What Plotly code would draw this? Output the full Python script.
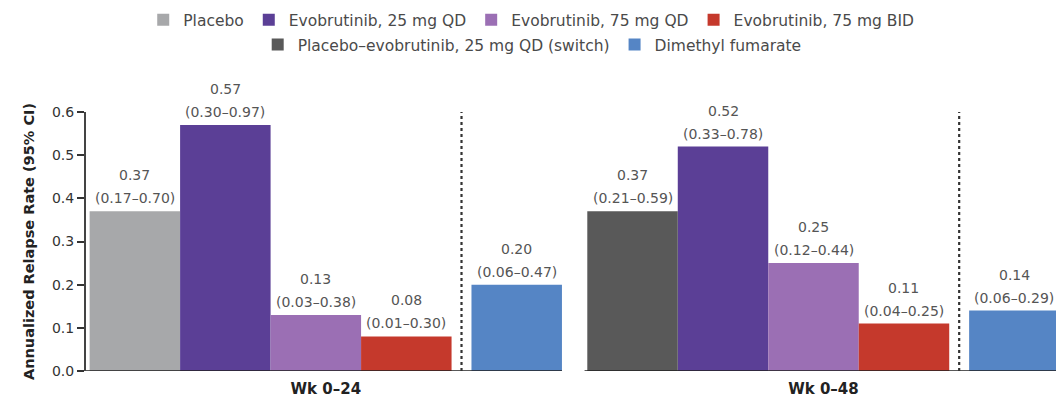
import plotly.graph_objects as go

# Annualized relapse rate by treatment arm and time window
windows = ["Wk 0–24", "Wk 0–48"]

arms = [
    "Placebo",
    "Evobrutinib, 25 mg QD",
    "Evobrutinib, 75 mg QD",
    "Evobrutinib, 75 mg BID",
    "Placebo–evobrutinib, 25 mg QD (switch)",
    "Dimethyl fumarate",
]

# rate, lower CI, upper CI per window (None = arm not shown in that window)
rate_wk24 = [0.37, 0.57, 0.13, 0.08, None, 0.20]
lo_wk24 = [0.17, 0.30, 0.03, 0.01, None, 0.06]
hi_wk24 = [0.70, 0.97, 0.38, 0.30, None, 0.47]

rate_wk48 = [None, 0.52, 0.25, 0.11, 0.37, 0.14]
lo_wk48 = [None, 0.33, 0.12, 0.04, 0.21, 0.06]
hi_wk48 = [None, 0.78, 0.44, 0.25, 0.59, 0.29]

y_ticks = [0.0, 0.1, 0.2, 0.3, 0.4, 0.5, 0.6]

colors = ["#a7a8aa", "#5b3f96", "#9b6fb4", "#c5392c", "#595959", "#5585c5"]

# layout of bar slots inside each window (in bar-width units)
group_start = [0.0, 5.5]
arm_offset = [0, 1, 2, 3, 0, 4.22]
divider_offset = 3.61
bar_w = 1.0
x_range = [-0.54, 10.18]

FONT = "DejaVu Sans"
LABEL_COL = "#555555"

rates = [rate_wk24, rate_wk48]
los = [lo_wk24, lo_wk48]
his = [hi_wk24, hi_wk48]

fig = go.Figure()
annotations = []

for a, name in enumerate(arms):
    xs, ys = [], []
    for g in range(len(windows)):
        v = rates[g][a]
        if v is None:
            continue
        x = group_start[g] + arm_offset[a]
        xs.append(x)
        ys.append(v)
        annotations.append(dict(
            x=x, y=v, xref="x", yref="y", text=f"{v:.2f}", showarrow=False,
            yshift=36, yanchor="middle", font=dict(family=FONT, size=14, color=LABEL_COL)))
        annotations.append(dict(
            x=x, y=v, xref="x", yref="y", text=f"({los[g][a]:.2f}–{his[g][a]:.2f})",
            showarrow=False, yshift=13, yanchor="middle",
            font=dict(family=FONT, size=14, color=LABEL_COL)))
    fig.add_trace(go.Bar(
        x=xs, y=ys, width=[bar_w] * len(xs), name=name,
        marker=dict(color=colors[a], line=dict(width=0)),
        legend="legend" if a < 4 else "legend2",
    ))

shapes = []
# baselines under each window
for g in range(len(windows)):
    xs = [group_start[g] + arm_offset[a] for a in range(len(arms)) if rates[g][a] is not None]
    left = x_range[0] if g == 0 else min(xs) - bar_w / 2 - 0.03
    right = max(xs) + bar_w / 2
    right = min(right, x_range[1])
    shapes.append(dict(type="line", xref="x", yref="y", x0=left, x1=right, y0=0, y1=0,
                       line=dict(color="#222222", width=1.6), layer="above"))
    # dotted divider before the active-comparator bar
    xd = group_start[g] + divider_offset
    shapes.append(dict(type="line", xref="x", yref="y", x0=xd, x1=xd, y0=0, y1=0.6,
                       line=dict(color="#333333", width=2.2, dash="3px,3px")))

centers = []
for g in range(len(windows)):
    xs = [group_start[g] + arm_offset[a] for a in range(len(arms)) if rates[g][a] is not None]
    centers.append((min(xs) + max(xs)) / 2)

legend_font = dict(family=FONT, size=15.5, color="#4a4a4a")

fig.update_layout(
    width=1056, height=399,
    margin=dict(l=86, r=0, t=112, b=28),
    paper_bgcolor="white", plot_bgcolor="white",
    barmode="overlay",
    font=dict(family=FONT, size=14, color="#333333"),
    shapes=shapes,
    annotations=annotations,
    showlegend=True,
    legend=dict(orientation="h", x=0.459, xanchor="center", y=1.355, yanchor="middle",
                font=legend_font, bgcolor="rgba(0,0,0,0)", traceorder="normal"),
    legend2=dict(orientation="h", x=0.46, xanchor="center", y=1.259, yanchor="middle",
                 font=legend_font, bgcolor="rgba(0,0,0,0)", traceorder="normal"),
    xaxis=dict(range=x_range, tickvals=centers, ticktext=[f"<b>{w}</b>" for w in windows],
               tickfont=dict(family=FONT, size=15, color="#222222"),
               ticklabelstandoff=7,
               showline=False, showgrid=False, zeroline=False, ticks=""),
    yaxis=dict(range=[0, 0.6], tickvals=y_ticks, tickformat=".1f",
               ticks="outside", ticklen=7, tickwidth=1.5, tickcolor="#333333",
               tickfont=dict(family=FONT, size=14, color="#333333"),
               showline=True, linecolor="#444444", linewidth=2,
               showgrid=False, zeroline=False,
               title=dict(text="<b>Annualized Relapse Rate (95% CI)</b>",
                          font=dict(family=FONT, size=14.5, color="#222222"), standoff=14)),
)

fig.write_html("out.html")
